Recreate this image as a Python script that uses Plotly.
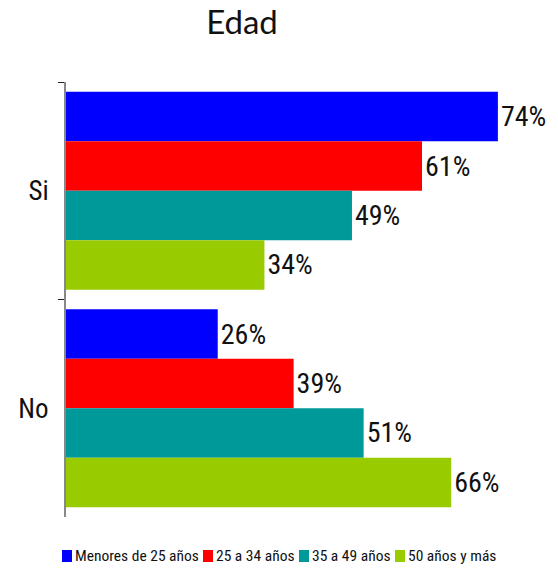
import plotly.graph_objects as go

categories = ["Si", "No"]
series_names = ["Menores de 25 años", "25 a 34 años", "35 a 49 años", "50 años y más"]
menores_25 = [74, 26]
de_25_34 = [61, 39]
de_35_49 = [49, 51]
de_50_mas = [34, 66]
colors = ["#0000FF", "#FF0000", "#009999", "#99CC00"]

FONT = "Roboto Condensed, DejaVu Sans Condensed, Liberation Sans, sans-serif"

# plot area in pixels (figure 558x570)
L, R, T, B = 66, 558, 82, 517
W, H = R - L, B - T


def px_x(x):
    return (x - L) / W


def px_y(y):
    return (B - y) / H


fig = go.Figure()
for name, vals, color in zip(series_names, [menores_25, de_25_34, de_35_49, de_50_mas], colors):
    fig.add_trace(go.Bar(
        name=name, y=categories, x=vals, orientation="h",
        marker=dict(color=color, line=dict(width=0)),
        text=[f"{v}%" for v in vals],
        textposition="outside",
        textfont=dict(size=28, color="#111111", family=FONT),
        cliponaxis=False,
        showlegend=False,
    ))

# legend drawn by hand: tight square swatch + label, one row
legend_x = [62, 203, 299, 395]
legend_y = 556
for name, color, lx in zip(series_names, colors, legend_x):
    fig.add_shape(type="rect", xref="paper", yref="paper",
                  x0=px_x(lx), x1=px_x(lx + 10), y0=px_y(legend_y + 6), y1=px_y(legend_y - 6),
                  fillcolor=color, line=dict(width=0))
    fig.add_annotation(text=name, xref="paper", yref="paper",
                       x=px_x(lx + 11), y=px_y(legend_y), xanchor="left", yanchor="middle",
                       showarrow=False, font=dict(size=15.5, color="#111111", family=FONT))

fig.update_layout(
    width=558, height=570,
    plot_bgcolor="white", paper_bgcolor="white",
    margin=dict(l=L, r=558 - R, t=T, b=570 - B, autoexpand=False),
    barmode="group",
    bargap=0.09, bargroupgap=0,
    title=dict(text="Edad", x=242 / 558, xanchor="center", y=1 - 22 / 570, yanchor="middle",
               font=dict(size=33, color="#111111", family="Lato, Noto Sans, sans-serif")),
    xaxis=dict(range=[0, 84.3], visible=False, showgrid=False, zeroline=False),
    yaxis=dict(autorange="reversed", showline=True, linecolor="#888888", linewidth=2,
               ticks="outside", tickson="boundaries", ticklen=6, tickcolor="#222222",
               automargin=False, ticklabelstandoff=10,
               tickfont=dict(size=27, color="#111111", family=FONT), showgrid=False),
    showlegend=False,
)

fig.write_html("out.html", config={"displayModeBar": False},
               post_script="document.body.style.margin='0';")
